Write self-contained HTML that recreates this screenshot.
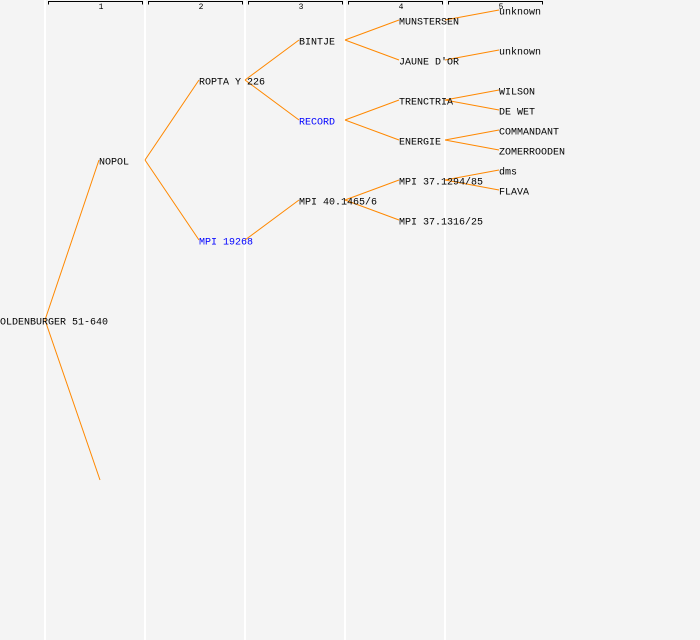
<!DOCTYPE html>
<html><head><meta charset="utf-8"><style>
body{margin:0;background:#f4f4f4;width:700px;height:640px;overflow:hidden}
svg{display:block}
text{font-family:"Liberation Mono",monospace;font-size:10px;fill:#000;dominant-baseline:middle}
.b{fill:#0000ff}
.h{font-size:8px;text-anchor:middle}
</style></head><body>
<svg width="700" height="640" xmlns="http://www.w3.org/2000/svg">
<rect width="700" height="640" fill="#f4f4f4"/>
<g stroke="#fff" stroke-width="2">
<line x1="45" y1="0" x2="45" y2="640"/><line x1="145" y1="0" x2="145" y2="640"/>
<line x1="245" y1="0" x2="245" y2="640"/><line x1="345" y1="0" x2="345" y2="640"/>
<line x1="445" y1="0" x2="445" y2="640"/>
</g>
<g stroke="#000" fill="none" stroke-width="1">
<path d="M48.5 4.5V1.5H142.5V4.5"/><path d="M148.5 4.5V1.5H242.5V4.5"/>
<path d="M248.5 4.5V1.5H342.5V4.5"/><path d="M348.5 4.5V1.5H442.5V4.5"/>
<path d="M448.5 4.5V1.5H542.5V4.5"/>
</g>
<text class="h" x="101" y="7">1</text><text class="h" x="201" y="7">2</text>
<text class="h" x="301" y="7">3</text><text class="h" x="401" y="7">4</text>
<text class="h" x="501" y="7">5</text>
<g stroke="#ff8800" stroke-width="1" fill="none">
<path d="M45 320L99 160M45 320L100 480"/>
<path d="M145 160L199 80M145 160L199 240"/>
<path d="M245 80L299 40M245 80L299 120M245 240L299 200"/>
<path d="M345 40L399 20M345 40L399 60M345 120L399 100M345 120L399 140M345 200L399 180M345 200L399 220"/>
<path d="M445 20L499 10M445 60L499 50M445 100L499 90M445 100L499 110M445 140L499 130M445 140L499 150M445 180L499 170M445 180L499 190"/>
</g>
<text x="0" y="322">OLDENBURGER 51-640</text>
<text x="99" y="162">NOPOL</text>
<text x="199" y="82">ROPTA Y 226</text>
<text class="b" x="199" y="242">MPI 19268</text>
<text x="299" y="42">BINTJE</text>
<text class="b" x="299" y="122">RECORD</text>
<text x="299" y="202">MPI 40.1465/6</text>
<text x="399" y="22">MUNSTERSEN</text>
<text x="399" y="62">JAUNE D'OR</text>
<text x="399" y="102">TRENCTRIA</text>
<text x="399" y="142">ENERGIE</text>
<text x="399" y="182">MPI 37.1294/85</text>
<text x="399" y="222">MPI 37.1316/25</text>
<text x="499" y="12">unknown</text>
<text x="499" y="52">unknown</text>
<text x="499" y="92">WILSON</text>
<text x="499" y="112">DE WET</text>
<text x="499" y="132">COMMANDANT</text>
<text x="499" y="152">ZOMERROODEN</text>
<text x="499" y="172">dms</text>
<text x="499" y="192">FLAVA</text>
</svg>
</body></html>
